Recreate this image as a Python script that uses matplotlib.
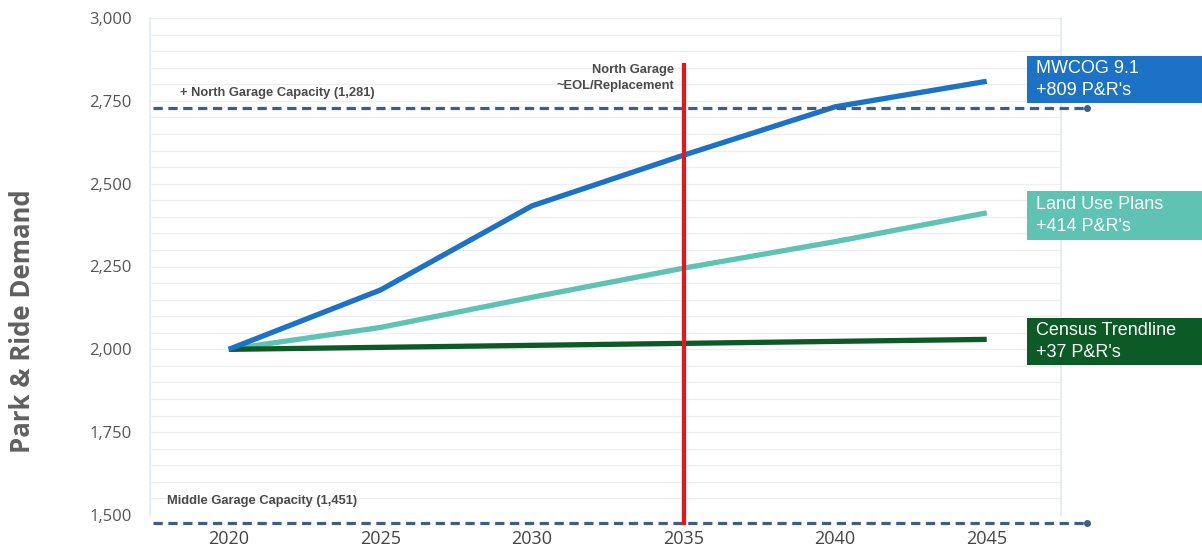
import matplotlib
matplotlib.use("Agg")
import matplotlib.pyplot as plt
import numpy as np

# ---- data ----
mwcog_years = [2020, 2025, 2030, 2035, 2040, 2045]
mwcog_vals = [2000, 2179, 2433, 2586, 2732, 2809]
landuse_years = [2020, 2025, 2030, 2035, 2040, 2045]
landuse_vals = [2000, 2066, 2157, 2245, 2325, 2412]
census_years = [2020, 2045]
census_vals = [2000, 2030]
north_cap_level = 2728
middle_cap_level = 1476
eol_year = 2035
eol_top = 2858
x_ticks = [2020, 2025, 2030, 2035, 2040, 2045]
y_ticks = [1500, 1750, 2000, 2250, 2500, 2750, 3000]

c_mwcog = "#1b72c6"
c_land = "#5ec3b3"
c_census = "#0c5a26"
c_dash = "#3d5f84"

plt.rcParams['font.family'] = ['Open Sans', 'DejaVu Sans']

fig = plt.figure(figsize=(12.02, 5.52), dpi=100)
ax = fig.add_axes([150/1202, 1-515/552, (1061-150)/1202, (515-18)/552])

ax.set_xlim(2017.4, 2047.45)
ax.set_ylim(1500, 3000)

# faint gridlines every 50
for v in np.arange(1500, 3001, 50):
    ax.axhline(v, color="#eeeef2", lw=0.9, zorder=0)
for s in ['top', 'bottom']:
    ax.spines[s].set_visible(False)
for s in ['left', 'right']:
    ax.spines[s].set_color("#e3e8f2")
    ax.spines[s].set_linewidth(1.2)

ax.set_xticks(x_ticks)
ax.set_xticklabels([str(x) for x in x_ticks], fontsize=13, color="#444444")
ax.set_yticks(y_ticks)
ax.set_yticklabels([f"{v:,}" for v in y_ticks], fontsize=12, color="#555555")
ax.tick_params(axis='x', length=0, pad=11)
ax.tick_params(axis='y', length=0, pad=13)

# series
ax.plot(landuse_years, landuse_vals, color=c_land, lw=3.8, solid_capstyle='butt', zorder=3)
ax.plot(census_years, census_vals, color=c_census, lw=3.8, solid_capstyle='butt', zorder=3)
ax.plot(mwcog_years, mwcog_vals, color=c_mwcog, lw=3.8, solid_capstyle='butt', zorder=4)

# capacity dashed lines (extend past axes)
xend = 2047.45 + (1087 - 1061) / 30.3
xstart = 2017.4 + 3 / 30.3
for lvl in [north_cap_level, middle_cap_level]:
    ax.plot([xstart, xend], [lvl, lvl], color=c_dash, lw=2.3, dashes=(2.9, 1.75),
            clip_on=False, zorder=5)
    ax.plot([xend], [lvl], 'o', color=c_dash, ms=4, clip_on=False, zorder=5)

# red EOL line
ax.plot([eol_year, eol_year], [middle_cap_level, eol_top], color="#e8161b", lw=3,
        clip_on=False, zorder=6)

lab_font = ['Liberation Sans', 'DejaVu Sans']
ax.text(2018.4, 2757, "+ North Garage Capacity (1,281)", fontsize=9.3, fontweight='bold',
        color="#4a4a4a", family=lab_font, va='bottom')
ax.text(2017.95, 1525, "Middle Garage Capacity (1,451)", fontsize=9.3, fontweight='bold',
        color="#4a4a4a", family=lab_font, va='bottom')
ax.text(2034.7, 2778, "North Garage\n~EOL/Replacement", fontsize=9.3, fontweight='bold',
        color="#4a4a4a", family=lab_font, ha='right', va='bottom',
        linespacing=1.4)

fig.text(23/1202, 1-321/552, "Park & Ride Demand", fontsize=18.5, fontweight='bold',
         color="#606060", rotation=90, ha='center', va='center')

# label boxes
boxes = [
    (56, 103, c_mwcog, "MWCOG 9.1\n+809 P&R's"),
    (191, 240, c_land, "Land Use Plans\n+414 P&R's"),
    (318, 365, c_census, "Census Trendline\n+37 P&R's"),
]
for top, bot, col, txt in boxes:
    fig.patches.append(matplotlib.patches.Rectangle(
        (1027/1202, 1-bot/552), (1202-1027)/1202, (bot-top)/552,
        transform=fig.transFigure, facecolor=col, edgecolor='none', zorder=2))
    fig.text(1036/1202, 1-(top+bot)/2/552, txt, fontsize=13, color="white",
             va='center', ha='left', linespacing=1.34, family=lab_font)

fig.savefig("out.png", dpi=100)
